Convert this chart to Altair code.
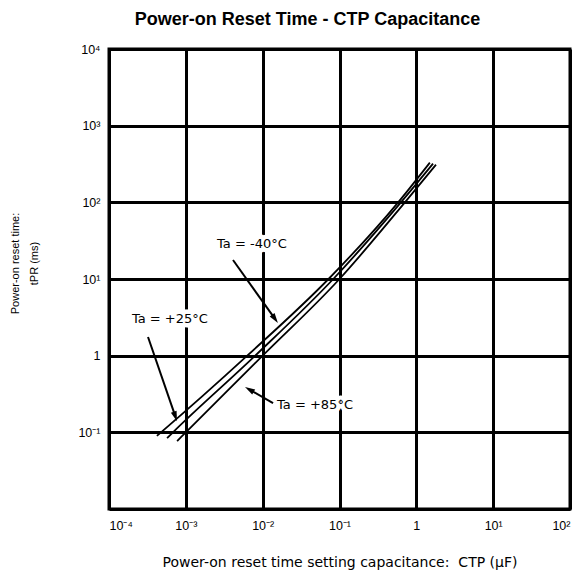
import altair as alt
import pandas as pd
import numpy as np

FONT = "Liberation Sans"
WIDE = "DejaVu Sans"

title_text = "Power-on Reset Time - CTP Capacitance"
x_title = "Power-on reset time setting capacitance:\u00a0 CTP (µF)"
y_title = ["Power-on reset time:", "tPR (ms)"]

x_ticks = [1e-4, 1e-3, 1e-2, 1e-1, 1, 1e1, 1e2]
x_tick_labels = ["10⁻⁴", "10⁻³", "10⁻²", "10⁻¹", "1", "10¹", "10²"]
y_ticks = [1e-1, 1, 1e1, 1e2, 1e3, 1e4]
y_tick_labels = ["10⁻¹", "1", "10¹", "10²", "10³", "10⁴"]
x_domain = [1e-4, 1e2]
y_domain = [1e-2, 1e4]

series = ["Ta = -40°C", "Ta = +25°C", "Ta = +85°C"]
# capacitance (uF) and reset time (ms)
m40_c = [4.2e-4, 4.75e-4, 6.3e-3, 0.072, 0.58, 1.5]
m40_t = [0.090, 0.1, 1.0, 10.0, 100.0, 330.0]
p25_c = [5.7e-4, 6.8e-4, 8.0e-3, 0.083, 0.63, 1.65]
p25_t = [0.084, 0.1, 1.0, 10.0, 100.0, 320.0]
p85_c = [7.7e-4, 1.0e-3, 1.0e-2, 0.1, 0.71, 1.8]
p85_t = [0.077, 0.1, 1.0, 10.0, 100.0, 310.0]

# annotation label anchors (left edge) and arrows (tail -> tip)
label_c = [2.55e-3, 1.99e-4, 1.538e-2]
label_t = [28.6, 3.0, 0.2275]
arrow_tail_c = [4.11e-3, 3.22e-4, 1.365e-2]
arrow_tail_t = [17.7, 1.75, 0.241]
arrow_tip_c = [1.58e-2, 7.67e-4, 5.89e-3]
arrow_tip_t = [2.67, 0.14, 0.39]

rows = []
for name, cs, ts in zip(series, [m40_c, p25_c, p85_c], [m40_t, p25_t, p85_t]):
    for i, (c, t) in enumerate(zip(cs, ts)):
        rows.append({"series": name, "c": c, "t": t, "o": i})
curves = pd.DataFrame(rows)

# arrowheads: place centre slightly behind the tip, rotate to the arrow direction
px_per_dec = 76.7
head_len = 10.0
arr = []
for i in range(3):
    lx0, ly0 = np.log10(arrow_tail_c[i]), np.log10(arrow_tail_t[i])
    lx1, ly1 = np.log10(arrow_tip_c[i]), np.log10(arrow_tip_t[i])
    dx, dy = lx1 - lx0, ly1 - ly0
    n = np.hypot(dx, dy)
    ux, uy = dx / n, dy / n
    back = (head_len / 2) / px_per_dec
    cx, cy = lx1 - ux * back, ly1 - uy * back
    ang = (np.degrees(np.arctan2(dx, dy)) + 360) % 360
    arr.append({
        "c0": arrow_tail_c[i], "t0": arrow_tail_t[i],
        "c1": 10 ** cx, "t1": 10 ** cy,
        "hc": 10 ** cx, "ht": 10 ** cy, "ang": float(ang),
    })
arrows = pd.DataFrame(arr)
labels = pd.DataFrame({"c": label_c, "t": label_t, "label": series})

def lab_expr(labs, lo):
    arr_txt = ",".join("'" + s + "'" for s in labs)
    return f"[{arr_txt}][round(log(datum.value)/LN10)+{-lo}]"

x_axis = alt.Axis(values=x_ticks, labelExpr=lab_expr(x_tick_labels, -4), title=x_title,
                  grid=True, ticks=False, labelPadding=10, labelFontSize=12.5,
                  titleY=53, titleBaseline="middle", titleFontSize=14, titleFont=WIDE)
y_axis = alt.Axis(values=y_ticks, labelExpr=lab_expr(y_tick_labels, -1), title=y_title,
                  grid=True, ticks=False, labelPadding=9, labelFontSize=12.5,
                  titleX=-94, titleY=214, titleAngle=-90, titleAlign="center",
                  titleBaseline="middle", titleLineHeight=19, titleFontSize=11)
xs = alt.Scale(type="log", domain=x_domain)
ys = alt.Scale(type="log", domain=y_domain)

lines = alt.Chart(curves).mark_line(color="black", strokeWidth=1.8, interpolate="monotone").encode(
    x=alt.X("c:Q", scale=xs, axis=x_axis),
    y=alt.Y("t:Q", scale=ys, axis=y_axis),
    detail="series:N",
    order="o:Q",
)

halo = alt.Chart(labels).mark_text(align="left", baseline="middle", font=WIDE, fontSize=13,
                                   stroke="white", strokeWidth=9, strokeJoin="round",
                                   fill="white").encode(
    x=alt.X("c:Q", scale=xs, axis=x_axis),
    y=alt.Y("t:Q", scale=ys, axis=y_axis),
    text="label:N",
)

rules = alt.Chart(arrows).mark_rule(color="black", strokeWidth=2).encode(
    x=alt.X("c0:Q", scale=xs, axis=x_axis),
    y=alt.Y("t0:Q", scale=ys, axis=y_axis),
    x2="c1:Q",
    y2="t1:Q",
)

heads = alt.Chart(arrows).mark_point(shape="M0,-1L-0.6,1L0.6,1Z", filled=True, size=100,
                                     color="black", opacity=1).encode(
    x=alt.X("hc:Q", scale=xs, axis=x_axis),
    y=alt.Y("ht:Q", scale=ys, axis=y_axis),
    angle=alt.Angle("ang:Q", scale=None),
)

texts = alt.Chart(labels).mark_text(align="left", baseline="middle", font=WIDE, fontSize=13,
                                    color="black").encode(
    x=alt.X("c:Q", scale=xs, axis=x_axis),
    y=alt.Y("t:Q", scale=ys, axis=y_axis),
    text="label:N",
)

chart = alt.layer(lines, halo, rules, heads, texts).properties(
    width=461,
    height=460,
    title=alt.TitleParams(title_text, font=FONT, fontSize=18, fontWeight="bold",
                          anchor="middle", dx=-32, offset=14, color="black"),
    autosize=alt.AutoSizeParams(type="none"),
    padding={"left": 101, "top": 41, "right": 4, "bottom": 67},
).configure_view(
    stroke="black", strokeWidth=3
).configure_axis(
    gridColor="black", gridWidth=3, gridOpacity=1,
    domainColor="black", domainWidth=3,
    labelColor="black", titleColor="black",
    labelFont=FONT, titleFont=FONT, titleFontWeight="normal",
)

chart.save("out.html", embed_options={"renderer": "svg", "actions": False})
